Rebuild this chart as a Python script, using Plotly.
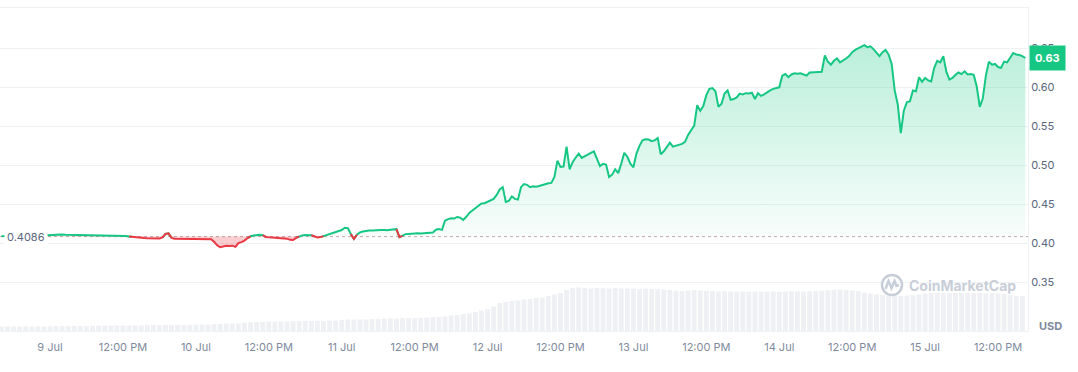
import numpy as np
import pandas as pd
import plotly.graph_objects as go

# ---------------- data ----------------
base_price = 0.4086
last_label = "0.63"
price_start = "2024-07-08 16:00"   # half-hourly prices
volume_start = "2024-07-08 16:00"  # hourly volume

price_jul08 = [0.4092, 0.4095, 0.4090, 0.4094, 0.4098, 0.4096, 0.4100, 0.4097,
               0.4102, 0.4099, 0.4103, 0.4100, 0.4104, 0.4101, 0.4105, 0.4103]
price_jul09 = [0.4104, 0.4108, 0.4110, 0.4115, 0.4112, 0.4109, 0.4108, 0.4110, 0.4107, 0.4109, 0.4106, 0.4108,
               0.4105, 0.4103, 0.4106, 0.4104, 0.4103, 0.4105, 0.4102, 0.4104, 0.4101, 0.4103, 0.4100, 0.4098,
               0.4097, 0.4094, 0.4089, 0.4083, 0.4079, 0.4075, 0.4072, 0.4068, 0.4066, 0.4064, 0.4062, 0.4060,
               0.4063, 0.4075, 0.4120, 0.4128, 0.4070, 0.4058, 0.4057, 0.4055, 0.4056, 0.4054, 0.4056, 0.4055]
price_jul10 = [0.4055, 0.4056, 0.4054, 0.4056, 0.4055, 0.4053, 0.4020, 0.3975, 0.3950, 0.3962, 0.3968, 0.3966,
               0.3970, 0.3955, 0.4004, 0.4015, 0.4035, 0.4068, 0.4090, 0.4100, 0.4108, 0.4111, 0.4105, 0.4082,
               0.4078, 0.4076, 0.4079, 0.4074, 0.4066, 0.4063, 0.4060, 0.4045, 0.4042, 0.4070, 0.4088, 0.4102,
               0.4106, 0.4107, 0.4104, 0.4085, 0.4076, 0.4080, 0.4092, 0.4104, 0.4112, 0.4126, 0.4140, 0.4158]
price_jul11 = [0.4170, 0.4200, 0.4195, 0.4120, 0.4055, 0.4110, 0.4140, 0.4152, 0.4160, 0.4165, 0.4163, 0.4168,
               0.4166, 0.4170, 0.4172, 0.4168, 0.4175, 0.4178, 0.4182, 0.4080, 0.4095, 0.4118, 0.4120, 0.4125,
               0.4127, 0.4128, 0.4126, 0.4130, 0.4128, 0.4132, 0.4140, 0.4175, 0.4182, 0.4172, 0.4290, 0.4310,
               0.4320, 0.4318, 0.4338, 0.4330, 0.4300, 0.4340, 0.4390, 0.4420, 0.4450, 0.4490, 0.4510, 0.4515]
price_jul12 = [0.4530, 0.4545, 0.4570, 0.4620, 0.4690, 0.4720, 0.4530, 0.4545, 0.4600, 0.4570, 0.4560, 0.4720,
               0.4760, 0.4750, 0.4720, 0.4730, 0.4725, 0.4735, 0.4750, 0.4760, 0.4770, 0.4775, 0.4850, 0.5060,
               0.4980, 0.4985, 0.5240, 0.4950, 0.5040, 0.5100, 0.5150, 0.5095, 0.5120, 0.5135, 0.5160, 0.5180,
               0.5080, 0.4990, 0.5020, 0.5010, 0.4850, 0.4880, 0.4950, 0.4900, 0.5020, 0.5160, 0.5110, 0.5020]
price_jul13 = [0.4975, 0.5150, 0.5250, 0.5320, 0.5335, 0.5330, 0.5310, 0.5320, 0.5350, 0.5140, 0.5180, 0.5230,
               0.5290, 0.5240, 0.5250, 0.5265, 0.5275, 0.5300, 0.5390, 0.5450, 0.5510, 0.5770, 0.5700, 0.5760,
               0.5900, 0.5980, 0.5990, 0.5950, 0.5750, 0.5790, 0.5920, 0.5960, 0.5840, 0.5850, 0.5870, 0.5920,
               0.5910, 0.5925, 0.5920, 0.5930, 0.5850, 0.5925, 0.5890, 0.5910, 0.5940, 0.5960, 0.5980, 0.5990]
price_jul14 = [0.6000, 0.6150, 0.6170, 0.6130, 0.6165, 0.6180, 0.6175, 0.6180, 0.6165, 0.6150, 0.6190, 0.6195,
               0.6192, 0.6198, 0.6200, 0.6410, 0.6330, 0.6290, 0.6340, 0.6370, 0.6320, 0.6340, 0.6370, 0.6400,
               0.6450, 0.6480, 0.6500, 0.6530, 0.6540, 0.6515, 0.6525, 0.6490, 0.6440, 0.6400, 0.6450, 0.6480,
               0.6420, 0.6300, 0.5960, 0.5780, 0.5414, 0.5700, 0.5810, 0.5820, 0.5960, 0.5950, 0.6130, 0.6070]
price_jul15 = [0.6120, 0.6090, 0.6075, 0.6250, 0.6340, 0.6320, 0.6400, 0.6200, 0.6100, 0.6120, 0.6160, 0.6190,
               0.6170, 0.6205, 0.6165, 0.6170, 0.6160, 0.6010, 0.5750, 0.5860, 0.6150, 0.6330, 0.6290, 0.6300,
               0.6260, 0.6250, 0.6330, 0.6320, 0.6380, 0.6440, 0.6420, 0.6415, 0.6400, 0.6376]

volume_jul08 = [4.4, 4.6, 4.5, 4.3, 4.6, 4.5, 4.7, 4.6]
volume_jul09 = [4.8, 4.9, 5.0, 4.8, 5.1, 5.0, 4.9, 5.2, 5.4, 5.5, 5.3, 5.6,
                5.5, 5.4, 5.6, 5.7, 5.9, 6.0, 5.8, 6.1, 6.2, 6.0, 6.1, 6.3]
volume_jul10 = [6.4, 6.5, 6.3, 6.8, 7.2, 7.5, 7.4, 7.6, 8.5, 8.8, 9.0, 9.3,
                9.5, 9.4, 9.6, 9.5, 10.0, 9.8, 10.1, 10.0, 10.2, 10.1, 10.3, 10.4]
volume_jul11 = [11.2, 11.5, 11.4, 11.6, 11.5, 11.8, 12.2, 12.5, 12.6, 12.5, 12.8, 13.0,
                12.9, 13.2, 13.4, 13.8, 14.0, 14.6, 15.5, 16.0, 17.0, 17.6, 19.0, 20.5]
volume_jul12 = [22.0, 24.5, 28.0, 29.0, 30.0, 30.5, 31.5, 32.0, 33.0, 33.5, 35.0, 36.5,
                38.0, 41.0, 43.0, 43.5, 43.0, 42.5, 43.0, 42.8, 42.5, 43.0, 42.6, 42.4]
volume_jul13 = [42.5, 42.0, 42.3, 41.8, 42.0, 41.5, 41.0, 40.2, 40.0, 40.5, 41.0, 40.6,
                40.2, 40.0, 39.6, 39.8, 39.5, 39.4, 39.6, 39.3, 39.5, 39.2, 39.4, 39.6]
volume_jul14 = [39.3, 39.5, 39.8, 39.6, 39.4, 39.7, 40.0, 40.3, 40.8, 41.2, 41.5, 41.0,
                40.6, 40.0, 38.5, 37.5, 36.8, 36.0, 35.5, 35.2, 35.0, 35.4, 35.8, 36.5]
volume_jul15 = [37.5, 38.0, 38.2, 38.0, 37.8, 38.1, 38.3, 38.0, 37.8, 38.0, 37.6, 37.8,
                37.5, 37.2, 36.0, 35.2, 35.0]

tick_times = ["2024-07-09 00:00", "2024-07-09 12:00", "2024-07-10 00:00", "2024-07-10 12:00",
              "2024-07-11 00:00", "2024-07-11 12:00", "2024-07-12 00:00", "2024-07-12 12:00",
              "2024-07-13 00:00", "2024-07-13 12:00", "2024-07-14 00:00", "2024-07-14 12:00",
              "2024-07-15 00:00", "2024-07-15 12:00"]
tick_labels = ["9 Jul", "12:00 PM", "10 Jul", "12:00 PM", "11 Jul", "12:00 PM", "12 Jul", "12:00 PM",
               "13 Jul", "12:00 PM", "14 Jul", "12:00 PM", "15 Jul", "12:00 PM"]
y_ticks = [0.35, 0.40, 0.45, 0.50, 0.55, 0.60, 0.65]
y_tick_labels = ["0.35", "0.40", "0.45", "0.50", "0.55", "0.60", "0.65"]
x_range = ["2024-07-08 15:46", "2024-07-15 16:56"]
y_range = [0.2876, 0.7017]

# ---------------- build ----------------
price = np.array(price_jul08 + price_jul09 + price_jul10 + price_jul11 +
                 price_jul12 + price_jul13 + price_jul14 + price_jul15)
volume = np.array(volume_jul08 + volume_jul09 + volume_jul10 + volume_jul11 +
                  volume_jul12 + volume_jul13 + volume_jul14 + volume_jul15)
t_price = pd.date_range(price_start, periods=len(price), freq="30min")
t_vol = pd.date_range(volume_start, periods=len(volume), freq="h")
n = len(price)
base = np.full(n, base_price)

above = price >= base_price
green_y, red_y = [], []
for i in range(n):
    ga = above[i] or (i > 0 and above[i - 1]) or (i < n - 1 and above[i + 1])
    rb = (not above[i]) or (i > 0 and not above[i - 1]) or (i < n - 1 and not above[i + 1])
    green_y.append(price[i] if ga else None)
    red_y.append(price[i] if rb else None)

GREEN = "#16c784"
RED = "#ea3943"

fig = go.Figure()
fig.add_trace(go.Bar(x=t_vol, y=volume, yaxis="y2", marker=dict(color="#eef0f3", line=dict(width=0)),
                     width=3600000 * 0.8, hoverinfo="skip"))
# green fill
fig.add_trace(go.Scatter(x=t_price, y=base, mode="lines", line=dict(width=0), hoverinfo="skip"))
fig.add_trace(go.Scatter(x=t_price, y=np.maximum(price, base), mode="lines", line=dict(width=0),
                         fill="tonexty",
                         fillgradient=dict(type="vertical", start=0.38, stop=0.66,
                                           colorscale=[[0, "rgba(22,199,132,0.0)"],
                                                       [1, "rgba(22,199,132,0.30)"]]),
                         hoverinfo="skip"))
# red fill
fig.add_trace(go.Scatter(x=t_price, y=base, mode="lines", line=dict(width=0), hoverinfo="skip"))
fig.add_trace(go.Scatter(x=t_price, y=np.minimum(price, base), mode="lines", line=dict(width=0),
                         fill="tonexty", fillcolor="rgba(234,57,67,0.25)", hoverinfo="skip"))
# lines
fig.add_trace(go.Scatter(x=t_price, y=green_y, mode="lines", line=dict(color=GREEN, width=2),
                         connectgaps=False))
fig.add_trace(go.Scatter(x=t_price, y=red_y, mode="lines", line=dict(color=RED, width=2),
                         connectgaps=False))

fig.add_shape(type="line", xref="paper", x0=0, x1=1, yref="y", y0=base_price, y1=base_price,
              line=dict(color="#c4a9ae", width=1, dash="dot"), layer="below")


def px2paper(px, py):
    return px / 1028.0, (331.0 - py) / 323.0


# watermark logo
cx0, cy0 = px2paper(882, 295)
cx1, cy1 = px2paper(902, 275)
fig.add_shape(type="circle", xref="paper", yref="paper", x0=cx0, y0=cy0, x1=cx1, y1=cy1,
              line=dict(color="#c8ced8", width=2.5), layer="above")
pts = [(885.5, 289), (888.5, 281), (891.5, 288), (894.5, 281), (896.5, 286), (899, 285)]
path = ""
for k, (a, b) in enumerate(pts):
    px_, py_ = px2paper(a, b)
    path += ("M" if k == 0 else "L") + f"{px_:.5f},{py_:.5f} "
fig.add_shape(type="path", xref="paper", yref="paper", path=path,
              line=dict(color="#c8ced8", width=2.5), layer="above")

wx, wy = px2paper(962, 285)
fig.add_annotation(xref="paper", yref="paper", x=wx, y=wy, xanchor="center", yanchor="middle",
                   text="<b>CoinMarketCap</b>", showarrow=False,
                   font=dict(family="Inter", size=14, color="#c8ced8"))

fig.add_annotation(xref="paper", x=0.004, xanchor="left", yref="y", y=base_price, yanchor="middle",
                   text=f"{base_price}", showarrow=False, bgcolor="white", borderpad=2,
                   font=dict(family="Inter", size=11, color="#58667e"))
fig.add_annotation(xref="paper", x=1.0, xshift=1, xanchor="left", yref="y", y=price[-1], yanchor="middle",
                   text=f"<b>{last_label}</b>", showarrow=False, bgcolor=GREEN, borderpad=5,
                   font=dict(family="Inter", size=11, color="white"))
ux, uy = px2paper(1050, 326)
fig.add_annotation(xref="paper", yref="paper", x=ux, y=uy, xanchor="center", yanchor="middle",
                   text="<b>USD</b>", showarrow=False,
                   font=dict(family="Inter", size=11, color="#808a9d"))

fig.update_layout(
    width=1078, height=372,
    margin=dict(l=0, r=50, t=8, b=41),
    paper_bgcolor="white", plot_bgcolor="white",
    showlegend=False,
    xaxis=dict(range=x_range, tickvals=tick_times, ticktext=tick_labels, showgrid=False,
               showline=True, linecolor="#eff2f5", linewidth=1, mirror=True, ticks="", zeroline=False,
               ticklabelstandoff=6,
               tickfont=dict(family="Inter", size=11, color="#808a9d")),
    yaxis=dict(side="right", range=y_range, tickvals=y_ticks, ticktext=y_tick_labels,
               gridcolor="#eff2f5", showline=True, linecolor="#eff2f5", zeroline=False,
               ticks="", tickfont=dict(family="Inter", size=11, color="#58667e")),
    yaxis2=dict(overlaying="y", range=[0, 323], visible=False),
    bargap=0.2,
)

fig.write_html("out.html", config={"displayModeBar": False},
               post_script="document.body.style.margin='0px';")
